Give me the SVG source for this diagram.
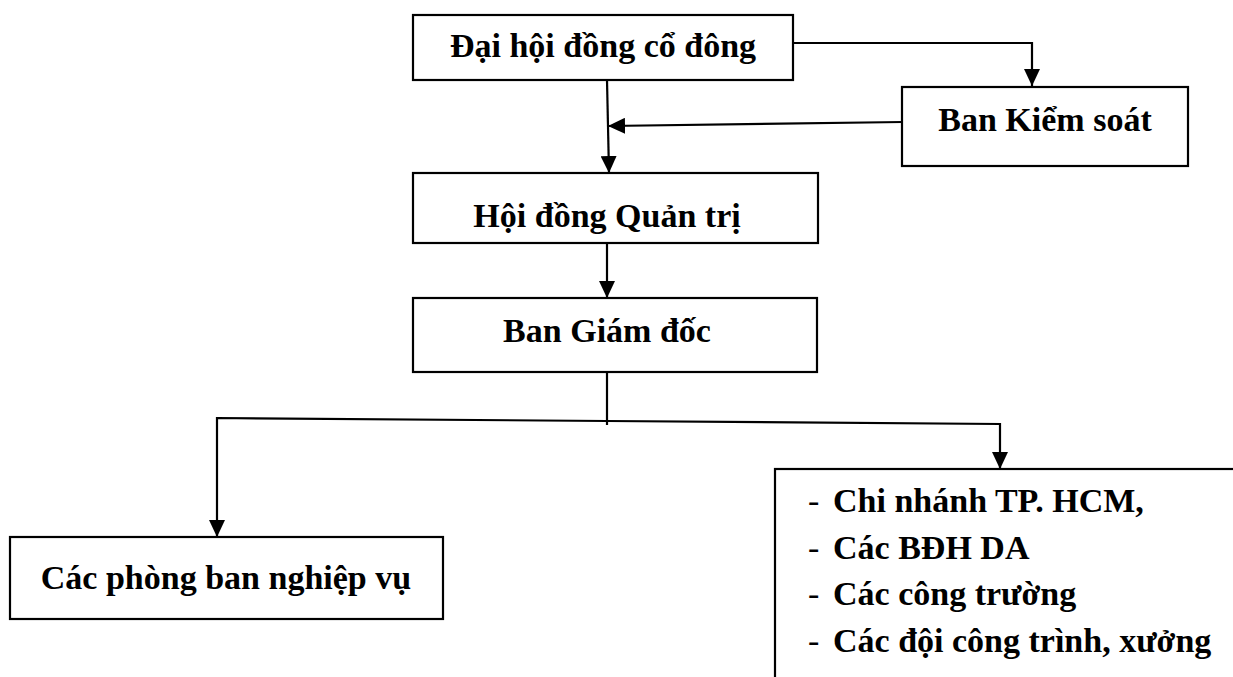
<svg xmlns="http://www.w3.org/2000/svg" width="1233" height="677" viewBox="0 0 1233 677">
  <style>
    .box { fill: #ffffff; stroke: #000000; stroke-width: 2.2; }
    .lbl { font-family: "Liberation Serif", "Times New Roman", serif; font-weight: bold; font-size: 34px; fill: #000000; }
    .dash { font-family: "Liberation Serif", "Times New Roman", serif; font-weight: normal; font-size: 34px; fill: #000000; }
    .conn { fill: none; stroke: #000000; stroke-width: 2.2; }
  </style>
  <defs>
    <marker id="arrow" markerUnits="userSpaceOnUse" markerWidth="17" markerHeight="16" refX="17" refY="8" orient="auto">
      <path d="M0,0 L17,8 L0,16 Z" fill="#000000"/>
    </marker>
  </defs>

  <g id="connectors">
    <polyline class="conn" points="793,43 1032,43 1032,86" marker-end="url(#arrow)"/>
    <line class="conn" x1="903" y1="122" x2="608" y2="126" marker-end="url(#arrow)"/>
    <line class="conn" x1="607" y1="80" x2="609" y2="173" marker-end="url(#arrow)"/>
    <line class="conn" x1="607" y1="243" x2="607" y2="298" marker-end="url(#arrow)"/>
    <line class="conn" x1="607" y1="372" x2="607" y2="425"/>
    <polyline class="conn" points="607,421 217,418 217,537" marker-end="url(#arrow)"/>
    <polyline class="conn" points="607,421 1000,424 1000,469" marker-end="url(#arrow)"/>
  </g>

  <g id="node-dhdcd">
    <rect class="box" x="413" y="15" width="380" height="65"/>
    <text class="lbl" x="603" y="57" text-anchor="middle">Đại hội đồng cổ đông</text>
  </g>

  <g id="node-bks">
    <rect class="box" x="902" y="87" width="286" height="79"/>
    <text class="lbl" x="1045" y="131" text-anchor="middle">Ban Kiểm soát</text>
  </g>

  <g id="node-hdqt">
    <rect class="box" x="413" y="173" width="405" height="70"/>
    <text class="lbl" x="607" y="227" text-anchor="middle">Hội đồng Quản trị</text>
  </g>

  <g id="node-bgd">
    <rect class="box" x="413" y="298" width="404" height="74"/>
    <text class="lbl" x="607" y="342" text-anchor="middle">Ban Giám đốc</text>
  </g>

  <g id="node-cpb">
    <rect class="box" x="10" y="537" width="433" height="82"/>
    <text class="lbl" x="226" y="589" text-anchor="middle">Các phòng ban nghiệp vụ</text>
  </g>

  <g id="node-units">
    <rect class="box" x="775" y="469" width="500" height="260"/>
    <text class="dash" x="808" y="512">-</text>
    <text class="lbl" x="833" y="512">Chi nhánh TP. HCM,</text>
    <text class="dash" x="808" y="559">-</text>
    <text class="lbl" x="833" y="559">Các BĐH DA</text>
    <text class="dash" x="808" y="605">-</text>
    <text class="lbl" x="833" y="605">Các công trường</text>
    <text class="dash" x="808" y="652">-</text>
    <text class="lbl" x="833" y="652">Các đội công trình, xưởng</text>
  </g>
</svg>
